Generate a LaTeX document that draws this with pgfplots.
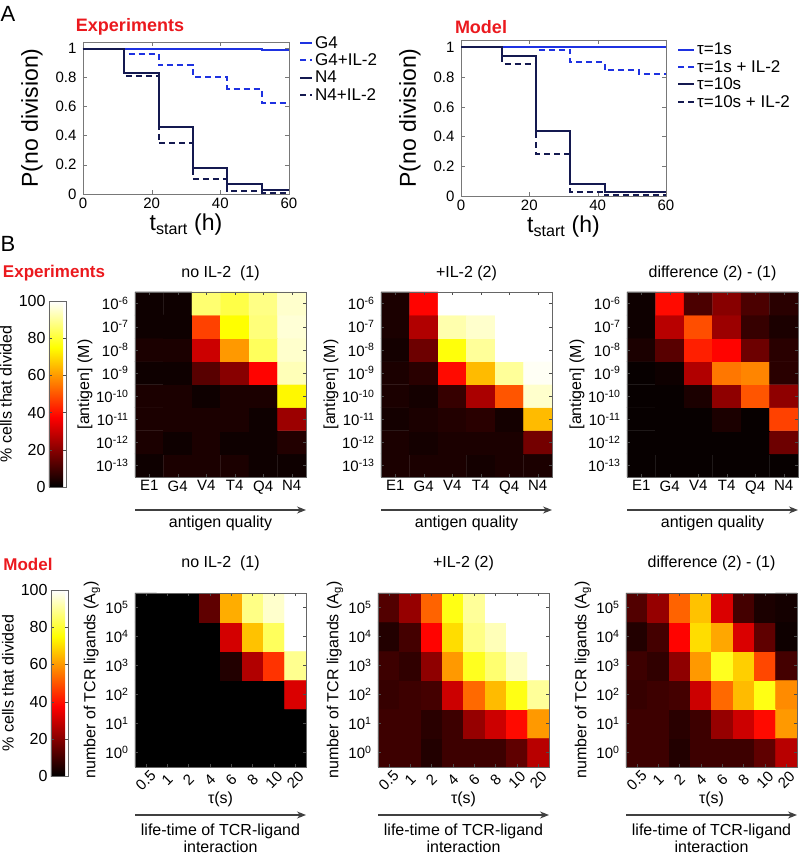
\documentclass[border=0pt]{standalone}
\usepackage{fontspec}
\setmainfont{Liberation Sans}
\usepackage{pgfplots}
\pgfplotsset{compat=1.18}
\usetikzlibrary{arrows.meta}

\definecolor{blu}{RGB}{30,50,225}
\definecolor{navy}{RGB}{20,25,80}
\definecolor{titred}{RGB}{235,25,30}
\definecolor{axgray}{RGB}{120,120,120}

\pgfplotsset{
  colormap={hotm}{rgb255(0pt)=(0,0,0) rgb255(3pt)=(255,0,0) rgb255(6pt)=(255,255,0) rgb255(8pt)=(255,255,255)},
  panelA/.style={
    scale only axis, xmin=0, xmax=60, ymin=0,
    xtick={0,20,40,60}, ytick={0,0.2,0.4,0.6,0.8,1},
    tick align=inside, major tick length=4pt,
    axis line style={axgray}, tick style={axgray},
    /pgf/number format/assume math mode=true,
    tick label style={font=\fontsize{15}{17}\selectfont},
    yticklabel style={xshift=-3pt},
    label style={font=\fontsize{23}{26}\selectfont},
    xlabel={t\textsubscript{start} (h)},
    ylabel={P(no division)},
    xlabel style={at={([yshift=-31pt]axis description cs:0.5,0)}, anchor=center},
    ylabel style={at={([xshift=-51pt]axis description cs:0,0.5)}, anchor=center},
    legend style={draw=none, fill=none, font=\fontsize{17}{18}\selectfont,
      inner sep=0pt, anchor=north west, nodes={inner sep=2pt}},
    legend cell align=left,
  },
  ln/.style={const plot, line width=2pt, #1},
  dsh/.style={const plot, line width=2pt, #1, dash pattern=on 6pt off 4pt},
  hm/.style={
    scale only axis, width=171pt, enlargelimits=false, axis on top,
    colormap name=hotm, point meta min=0, point meta max=100,
    tick align=inside, major tick length=3pt,
    axis line style={black!60}, tick style={black!70},
    tick label style={font=\fontsize{15}{17}\selectfont},
    label style={font=\fontsize{16}{18}\selectfont},
    title style={font=\fontsize{16}{18}\selectfont},
    yticklabel style={xshift=-3pt},
    clip=false,
  },
  hmtop/.style={hm, height=185pt,
    xmin=-0.5, xmax=5.5, ymin=-13.5, ymax=-5.5,
    xtick={0,...,5}, xticklabels={E1,G4,V4,T4,Q4,N4},
    ytick={-13,...,-6},
    yticklabels={10\textsuperscript{-13},10\textsuperscript{-12},10\textsuperscript{-11},10\textsuperscript{-10},10\textsuperscript{-9},10\textsuperscript{-8},10\textsuperscript{-7},10\textsuperscript{-6}},
    ylabel={[antigen] (M)},
    ylabel style={at={([xshift=-50pt]axis description cs:0,0.5)}, anchor=center},
    xlabel={antigen quality},
    xlabel style={at={([yshift=-46pt]axis description cs:0.5,0)}, anchor=center},
    title style={at={([yshift=13pt]axis description cs:0.5,1)}, anchor=center},
  },
  hmbot/.style={hm, height=174pt,
    xmin=-0.5, xmax=7.5, ymin=-0.5, ymax=5.5,
    xtick={0,...,7}, xticklabels={0.5,1,2,4,6,8,10,20},
    xticklabel style={yshift=-13pt, rotate=45, anchor=center},
    ytick={0,...,5},
    yticklabels={10\textsuperscript{0},10\textsuperscript{1},10\textsuperscript{2},10\textsuperscript{3},10\textsuperscript{4},10\textsuperscript{5}},
    ylabel={number of TCR ligands (A\textsubscript{g})},
    ylabel style={at={([xshift=-43pt]axis description cs:0,0.5)}, anchor=center},
    xlabel={τ(s)},
    xlabel style={at={([yshift=-32pt]axis description cs:0.5,0)}, anchor=center},
    title style={at={([yshift=24pt]axis description cs:0.5,1)}, anchor=center},
  },
  cbar/.style 2 args={
    colorbar,
    colorbar shift/.style={xshift=#1, yshift=#2},
    colorbar style={
      at={(parent axis.north west)}, anchor=north east,
      width=17pt, height=186pt,
      ytick={0,20,40,60,80,100}, yticklabel pos=left,
      /pgf/number format/assume math mode=true,
      tick align=inside, major tick length=3pt,
      axis line style={black!60}, tick style={black!70},
      tick label style={font=\fontsize{16}{18}\selectfont},
      ylabel={\% cells that divided},
      ylabel style={font=\fontsize{16}{18}\selectfont},
    },
  },
}

\newcommand{\qualarrow}[1]{\draw[-{Stealth[length=9pt,width=7pt]}, line width=1.2pt, black!75]
  ([yshift=-#1]rel axis cs:0,0) -- ([yshift=-#1]rel axis cs:1,0);}

\begin{document}
\begin{tikzpicture}
\useasboundingbox (0pt,0pt) rectangle (800pt,855pt);

% ---------- panel A ----------
\node[font=\fontsize{22}{24}\selectfont] at (8pt,841pt) {A};
\node[font=\fontsize{18}{20}\selectfont\bfseries, text=titred] at (130pt,828pt) {Experiments};
\node[font=\fontsize{18}{20}\selectfont\bfseries, text=titred] at (481pt,828pt) {Model};

\begin{axis}[panelA, at={(83pt,661pt)}, width=206pt, height=152pt, ymax=1.04,
  legend style={at={([xshift=10pt,yshift=8pt]axis description cs:1,1)}},
  legend image code/.code={\draw[#1] (0pt,0pt) -- (12pt,0pt);}]
\addplot[ln=blu] coordinates {(0,0.995)(2,0.99)(52,0.985)(60,0.985)};
\addlegendentry{G4}
\addplot[dsh=blu] coordinates {(0,0.99)(12,0.96)(22,0.88)(32,0.80)(42,0.72)(52,0.625)(60,0.625)};
\addlegendentry{G4+IL-2}
\addplot[ln=navy] coordinates {(0,0.99)(12,0.83)(22,0.46)(32,0.18)(42,0.07)(52,0.03)(60,0.03)};
\addlegendentry{N4}
\addplot[dsh=navy] coordinates {(0,0.99)(12,0.805)(22,0.35)(32,0.10)(42,0.02)(52,0.01)(60,0.01)};
\addlegendentry{N4+IL-2}
\end{axis}

\begin{axis}[panelA, at={(461pt,659pt)}, width=205pt, height=156pt, ymax=1.05,
  legend style={at={([xshift=11pt,yshift=-1pt]axis description cs:1,1)}},
  legend image code/.code={\draw[#1] (0pt,0pt) -- (16pt,0pt);}]
\addplot[ln=blu] coordinates {(0,1)(60,1)};
\addlegendentry{τ=1s}
\addplot[dsh=blu] coordinates {(0,1)(22,0.985)(32,0.90)(42,0.845)(52,0.82)(60,0.82)};
\addlegendentry{τ=1s + IL-2}
\addplot[ln=navy] coordinates {(0,1)(12,0.94)(22,0.44)(32,0.08)(42,0.025)(60,0.025)};
\addlegendentry{τ=10s}
\addplot[dsh=navy] coordinates {(0,1)(12,0.89)(22,0.28)(32,0.03)(42,0.005)(60,0.005)};
\addlegendentry{τ=10s + IL-2}
\end{axis}

% ---------- panel B, experiments ----------
\node[font=\fontsize{22}{24}\selectfont] at (8pt,611pt) {B};
\node[font=\fontsize{17}{19}\selectfont\bfseries, text=titred] at (54pt,582pt) {Experiments};

\begin{axis}[hmtop, at={(135pt,378pt)}, title={no IL-2\ \ (1)},
  cbar={-69pt}{-9pt}]
\addplot[matrix plot*, mesh/cols=6, point meta=explicit] coordinates {
(0,-13)[2] (1,-13)[4] (2,-13)[4] (3,-13)[4] (4,-13)[2] (5,-13)[2]
(0,-12)[4] (1,-12)[2] (2,-12)[4] (3,-12)[2] (4,-12)[2] (5,-12)[5]
(0,-11)[4] (1,-11)[4] (2,-11)[4] (3,-11)[4] (4,-11)[2] (5,-11)[23]
(0,-10)[4] (1,-10)[4] (2,-10)[2] (3,-10)[4] (4,-10)[4] (5,-10)[74]
(0,-9)[2] (1,-9)[2] (2,-9)[13] (3,-9)[20] (4,-9)[38] (5,-9)[93]
(0,-8)[4] (1,-8)[4] (2,-8)[30] (3,-8)[60] (4,-8)[84] (5,-8)[95]
(0,-7)[2] (1,-7)[2] (2,-7)[47] (3,-7)[75] (4,-7)[87] (5,-7)[96]
(0,-6)[2] (1,-6)[2] (2,-6)[86] (3,-6)[82] (4,-6)[88] (5,-6)[95]
};
\qualarrow{33pt}
\end{axis}

\begin{axis}[hmtop, at={(381pt,378pt)}, title={+IL-2 (2)}]
\addplot[matrix plot*, mesh/cols=6, point meta=explicit] coordinates {
(0,-13)[4] (1,-13)[4] (2,-13)[4] (3,-13)[3] (4,-13)[4] (5,-13)[4]
(0,-12)[4] (1,-12)[3] (2,-12)[4] (3,-12)[4] (4,-12)[4] (5,-12)[17]
(0,-11)[3] (1,-11)[4] (2,-11)[5] (3,-11)[6] (4,-11)[3] (5,-11)[65]
(0,-10)[4] (1,-10)[3] (2,-10)[8] (3,-10)[25] (4,-10)[50] (5,-10)[95]
(0,-9)[4] (1,-9)[6] (2,-9)[39] (3,-9)[65] (4,-9)[90] (5,-9)[99]
(0,-8)[3] (1,-8)[16] (2,-8)[76] (3,-8)[90] (4,-8)[100] (5,-8)[100]
(0,-7)[4] (1,-7)[26] (2,-7)[92] (3,-7)[95] (4,-7)[100] (5,-7)[100]
(0,-6)[4] (1,-6)[38] (2,-6)[100] (3,-6)[100] (4,-6)[100] (5,-6)[100]
};
\qualarrow{33pt}
\end{axis}

\begin{axis}[hmtop, at={(627pt,378pt)}, title={difference (2) - (1)}]
\addplot[matrix plot*, mesh/cols=6, point meta=explicit] coordinates {
(0,-13)[1] (1,-13)[1] (2,-13)[1] (3,-13)[1] (4,-13)[1] (5,-13)[1]
(0,-12)[1] (1,-12)[1] (2,-12)[1] (3,-12)[1] (4,-12)[1] (5,-12)[16]
(0,-11)[1] (1,-11)[1] (2,-11)[1] (3,-11)[4] (4,-11)[1] (5,-11)[47]
(0,-10)[1] (1,-10)[1] (2,-10)[4] (3,-10)[21] (4,-10)[50] (5,-10)[21]
(0,-9)[1] (1,-9)[2] (2,-9)[26] (3,-9)[55] (4,-9)[57] (5,-9)[6]
(0,-8)[4] (1,-8)[13] (2,-8)[42] (3,-8)[38] (4,-8)[16] (5,-8)[6]
(0,-7)[2] (1,-7)[27] (2,-7)[49] (3,-7)[23] (4,-7)[8] (5,-7)[4]
(0,-6)[2] (1,-6)[39] (2,-6)[11] (3,-6)[20] (4,-6)[11] (5,-6)[6]
};
\qualarrow{33pt}
\end{axis}

% ---------- panel B, model ----------
\node[font=\fontsize{17}{19}\selectfont\bfseries, text=titred] at (28pt,291pt) {Model};

\begin{axis}[hmbot, at={(135pt,88pt)}, title={no IL-2\ \ (1)},
  cbar={-67pt}{3pt}]
\addplot[matrix plot*, mesh/cols=8, point meta=explicit] coordinates {
(0,0)[0] (1,0)[0] (2,0)[0] (3,0)[0] (4,0)[0] (5,0)[0] (6,0)[0] (7,0)[0]
(0,1)[0] (1,1)[0] (2,1)[0] (3,1)[0] (4,1)[0] (5,1)[0] (6,1)[0] (7,1)[0]
(0,2)[0] (1,2)[0] (2,2)[0] (3,2)[0] (4,2)[0] (5,2)[0] (6,2)[0] (7,2)[32]
(0,3)[0] (1,3)[0] (2,3)[0] (3,3)[0] (4,3)[5] (5,3)[26] (6,3)[45] (7,3)[89]
(0,4)[0] (1,4)[0] (2,4)[0] (3,4)[0] (4,4)[31] (5,4)[66] (6,4)[84] (7,4)[100]
(0,5)[0] (1,5)[0] (2,5)[0] (3,5)[14] (4,5)[63] (5,5)[88] (6,5)[95] (7,5)[100]
};
\qualarrow{48pt}
\node[font=\fontsize{16}{17}\selectfont, align=center] at ([yshift=-71pt]rel axis cs:0.5,0) {life-time of TCR-ligand\\interaction};
\end{axis}

\begin{axis}[hmbot, at={(378pt,88pt)}, title={+IL-2 (2)}]
\addplot[matrix plot*, mesh/cols=8, point meta=explicit] coordinates {
(0,0)[9] (1,0)[9] (2,0)[5] (3,0)[9] (4,0)[9] (5,0)[9] (6,0)[14] (7,0)[27]
(0,1)[9] (1,1)[9] (2,1)[6] (3,1)[9] (4,1)[22] (5,1)[30] (6,1)[39] (7,1)[60]
(0,2)[8] (1,2)[9] (2,2)[10] (3,2)[30] (4,2)[53] (5,2)[65] (6,2)[77] (7,2)[90]
(0,3)[9] (1,3)[7] (2,3)[21] (3,3)[60] (4,3)[78] (5,3)[86] (6,3)[94] (7,3)[100]
(0,4)[5] (1,4)[10] (2,4)[38] (3,4)[70] (4,4)[88] (5,4)[93] (6,4)[100] (7,4)[100]
(0,5)[12] (1,5)[22] (2,5)[52] (3,5)[77] (4,5)[90] (5,5)[100] (6,5)[100] (7,5)[100]
};
\qualarrow{48pt}
\node[font=\fontsize{16}{17}\selectfont, align=center] at ([yshift=-71pt]rel axis cs:0.5,0) {life-time of TCR-ligand\\interaction};
\end{axis}

\begin{axis}[hmbot, at={(626pt,88pt)}, title={difference (2) - (1)}]
\addplot[matrix plot*, mesh/cols=8, point meta=explicit] coordinates {
(0,0)[9] (1,0)[9] (2,0)[5] (3,0)[9] (4,0)[9] (5,0)[9] (6,0)[14] (7,0)[27]
(0,1)[9] (1,1)[9] (2,1)[6] (3,1)[9] (4,1)[22] (5,1)[30] (6,1)[39] (7,1)[60]
(0,2)[8] (1,2)[9] (2,2)[10] (3,2)[30] (4,2)[53] (5,2)[65] (6,2)[77] (7,2)[58]
(0,3)[9] (1,3)[7] (2,3)[21] (3,3)[60] (4,3)[78] (5,3)[68] (6,3)[48] (7,3)[10]
(0,4)[5] (1,4)[10] (2,4)[38] (3,4)[70] (4,4)[62] (5,4)[32] (6,4)[14] (7,4)[2]
(0,5)[12] (1,5)[22] (2,5)[52] (3,5)[66] (4,5)[32] (5,5)[10] (6,5)[4] (7,5)[3]
};
\qualarrow{48pt}
\node[font=\fontsize{16}{17}\selectfont, align=center] at ([yshift=-71pt]rel axis cs:0.5,0) {life-time of TCR-ligand\\interaction};
\end{axis}
\end{tikzpicture}
\end{document}
